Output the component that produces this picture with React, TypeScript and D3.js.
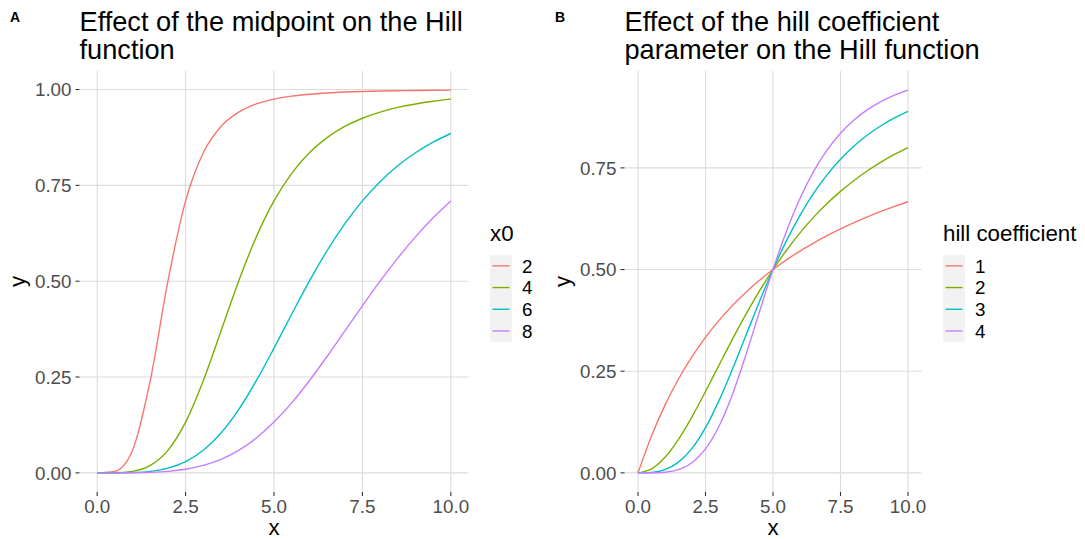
import React from "react";
import * as d3 from "d3";

// x sample positions (shared by all series)
const xValues = [0, 0.5, 1, 1.5, 2, 2.5, 3, 3.5, 4, 4.5, 5, 5.5, 6, 6.5, 7, 7.5, 8, 8.5, 9, 9.5, 10];

// Panel A: midpoint x0 = 2, 4, 6, 8
const midpointLabels = ["2", "4", "6", "8"];
const yMid2 = [0, 0.0039, 0.0588, 0.2404, 0.5, 0.7094, 0.8351, 0.9037, 0.9412, 0.9624, 0.975, 0.9828, 0.9878, 0.9911, 0.9934, 0.995, 0.9961, 0.9969, 0.9976, 0.998, 0.9984];
const yMid4 = [0, 0.0002, 0.0039, 0.0194, 0.0588, 0.1324, 0.2404, 0.3696, 0.5, 0.6156, 0.7094, 0.7814, 0.8351, 0.8746, 0.9037, 0.9251, 0.9412, 0.9533, 0.9624, 0.9695, 0.975];
const yMid6 = [0, 0.00005, 0.0008, 0.0039, 0.0122, 0.0293, 0.0588, 0.1038, 0.1649, 0.2404, 0.3254, 0.4139, 0.5, 0.5794, 0.6494, 0.7094, 0.7596, 0.8011, 0.8351, 0.8627, 0.8853];
const yMid8 = [0, 0.00002, 0.0002, 0.0012, 0.0039, 0.0094, 0.0194, 0.0353, 0.0588, 0.091, 0.1324, 0.1826, 0.2404, 0.3035, 0.3696, 0.4358, 0.5, 0.5603, 0.6156, 0.6654, 0.7094];

// Panel B: hill coefficient n = 1, 2, 3, 4
const hillLabels = ["1", "2", "3", "4"];
const yHill1 = [0, 0.0909, 0.1667, 0.2308, 0.2857, 0.3333, 0.375, 0.4118, 0.4444, 0.4737, 0.5, 0.5238, 0.5455, 0.5652, 0.5833, 0.6, 0.6154, 0.6296, 0.6429, 0.6552, 0.6667];
const yHill2 = [0, 0.0099, 0.0385, 0.0826, 0.1379, 0.2, 0.2647, 0.3289, 0.3902, 0.4475, 0.5, 0.5475, 0.5902, 0.6283, 0.6622, 0.6923, 0.7191, 0.7429, 0.7642, 0.7831, 0.8];
const yHill3 = [0, 0.001, 0.0079, 0.0263, 0.0602, 0.1111, 0.1776, 0.2554, 0.3386, 0.4216, 0.5, 0.571, 0.6334, 0.6872, 0.7329, 0.7714, 0.8038, 0.8309, 0.8536, 0.8728, 0.8889];
const yHill4 = [0, 0.0001, 0.0016, 0.008, 0.025, 0.0588, 0.1147, 0.1936, 0.2906, 0.3962, 0.5, 0.5942, 0.6747, 0.7407, 0.7935, 0.8351, 0.8676, 0.8931, 0.913, 0.9287, 0.9412];

const xTicks = [0, 2.5, 5, 7.5, 10];
const yTicksA = [0, 0.25, 0.5, 0.75, 1];
const yTicksB = [0, 0.25, 0.5, 0.75];

const palette = ["#F8766D", "#7CAE00", "#00BFC4", "#C77CFF"];
const FONT = "'Liberation Sans', Arial, sans-serif";
const TICK_FS = 18.8;
const TITLE_FS = 27.2;
const AXIS_FS = 22.3;

type PanelProps = {
  tag: string;
  titleLines: string[];
  series: number[][];
  labels: string[];
  legendTitle: string;
  left: number;
  right: number;
  yTicks: number[];
  legendX: number;
  tagX: number;
};

function expand(lo: number, hi: number): [number, number] {
  const s = hi - lo;
  return [lo - 0.05 * s, hi + 0.05 * s];
}

function Panel(p: PanelProps) {
  const top = 71;
  const bottom = 492;
  const allY = p.series.flat();
  const x = d3.scaleLinear().domain(expand(d3.min(xValues)!, d3.max(xValues)!)).range([p.left, p.right]);
  const y = d3.scaleLinear().domain(expand(d3.min(allY)!, d3.max(allY)!)).range([bottom, top]);
  const line = d3
    .line<number>()
    .x((_, i) => x(xValues[i]))
    .y((d) => y(d))
    .curve(d3.curveMonotoneX);
  const fmtX = d3.format(".1f");
  const fmtY = d3.format(".2f");
  const keyTop = 255;
  const keyH = 21.7;
  return (
    <g>
      <text x={p.tagX} y={22} fontFamily={FONT} fontWeight="bold" fontSize={14} fill="#000">
        {p.tag}
      </text>
      {p.titleLines.map((t, i) => (
        <text key={i} x={p.left} y={31 + i * 27.5} fontFamily={FONT} fontSize={TITLE_FS} fill="#000">
          {t}
        </text>
      ))}
      {/* grid */}
      {xTicks.map((t) => (
        <line key={"gx" + t} x1={x(t)} x2={x(t)} y1={top} y2={bottom} stroke="#dcdcdc" strokeWidth={1.1} />
      ))}
      {p.yTicks.map((t) => (
        <line key={"gy" + t} x1={p.left} x2={p.right} y1={y(t)} y2={y(t)} stroke="#dcdcdc" strokeWidth={1.1} />
      ))}
      {/* ticks */}
      {xTicks.map((t) => (
        <g key={"tx" + t}>
          <line x1={x(t)} x2={x(t)} y1={bottom} y2={bottom + 4} stroke="#333" strokeWidth={1.1} />
          <text x={x(t)} y={513} textAnchor="middle" fontFamily={FONT} fontSize={TICK_FS} fill="#4d4d4d">
            {fmtX(t)}
          </text>
        </g>
      ))}
      {p.yTicks.map((t) => (
        <g key={"ty" + t}>
          <line x1={p.left - 4} x2={p.left} y1={y(t)} y2={y(t)} stroke="#333" strokeWidth={1.1} />
          <text x={p.left - 8} y={y(t) + 6.7} textAnchor="end" fontFamily={FONT} fontSize={TICK_FS} fill="#4d4d4d">
            {fmtY(t)}
          </text>
        </g>
      ))}
      {/* axis titles */}
      <text x={(p.left + p.right) / 2} y={535} textAnchor="middle" fontFamily={FONT} fontSize={AXIS_FS} fill="#000">
        x
      </text>
      <text
        transform={`translate(${p.left - 55},${(top + bottom) / 2}) rotate(-90)`}
        textAnchor="middle"
        fontFamily={FONT}
        fontSize={AXIS_FS}
        fill="#000"
      >
        y
      </text>
      {/* lines */}
      {p.series.map((s, i) => (
        <path key={"l" + i} d={line(s)!} fill="none" stroke={palette[i]} strokeWidth={1.4} />
      ))}
      {/* legend */}
      <text x={p.legendX} y={241} fontFamily={FONT} fontSize={AXIS_FS} fill="#000">
        {p.legendTitle}
      </text>
      <rect x={p.legendX} y={keyTop} width={22} height={keyH * p.labels.length} fill="#f2f2f2" />
      {p.labels.map((lab, i) => (
        <g key={"k" + i}>
          <line
            x1={p.legendX + 2.5}
            x2={p.legendX + 19.5}
            y1={keyTop + keyH * (i + 0.5)}
            y2={keyTop + keyH * (i + 0.5)}
            stroke={palette[i]}
            strokeWidth={1.4}
          />
          <text x={p.legendX + 32} y={keyTop + keyH * (i + 0.5) + 6.7} fontFamily={FONT} fontSize={TICK_FS} fill="#000">
            {lab}
          </text>
        </g>
      ))}
    </g>
  );
}

export default function App() {
  return (
    <svg width={1085} height={540} style={{ position: "absolute", left: 0, top: 0, background: "#fff" }}>
      <rect width={1085} height={540} fill="#fff" />
      <Panel
        tag="A"
        tagX={10}
        titleLines={["Effect of the midpoint on the Hill", "function"]}
        series={[yMid2, yMid4, yMid6, yMid8]}
        labels={midpointLabels}
        legendTitle="x0"
        left={79.5}
        right={468.5}
        yTicks={yTicksA}
        legendX={490}
      />
      <Panel
        tag="B"
        tagX={555}
        titleLines={["Effect of the hill coefficient", "parameter on the Hill function"]}
        series={[yHill1, yHill2, yHill3, yHill4]}
        labels={hillLabels}
        legendTitle="hill coefficient"
        left={624.5}
        right={921.5}
        yTicks={yTicksB}
        legendX={943}
      />
    </svg>
  );
}
